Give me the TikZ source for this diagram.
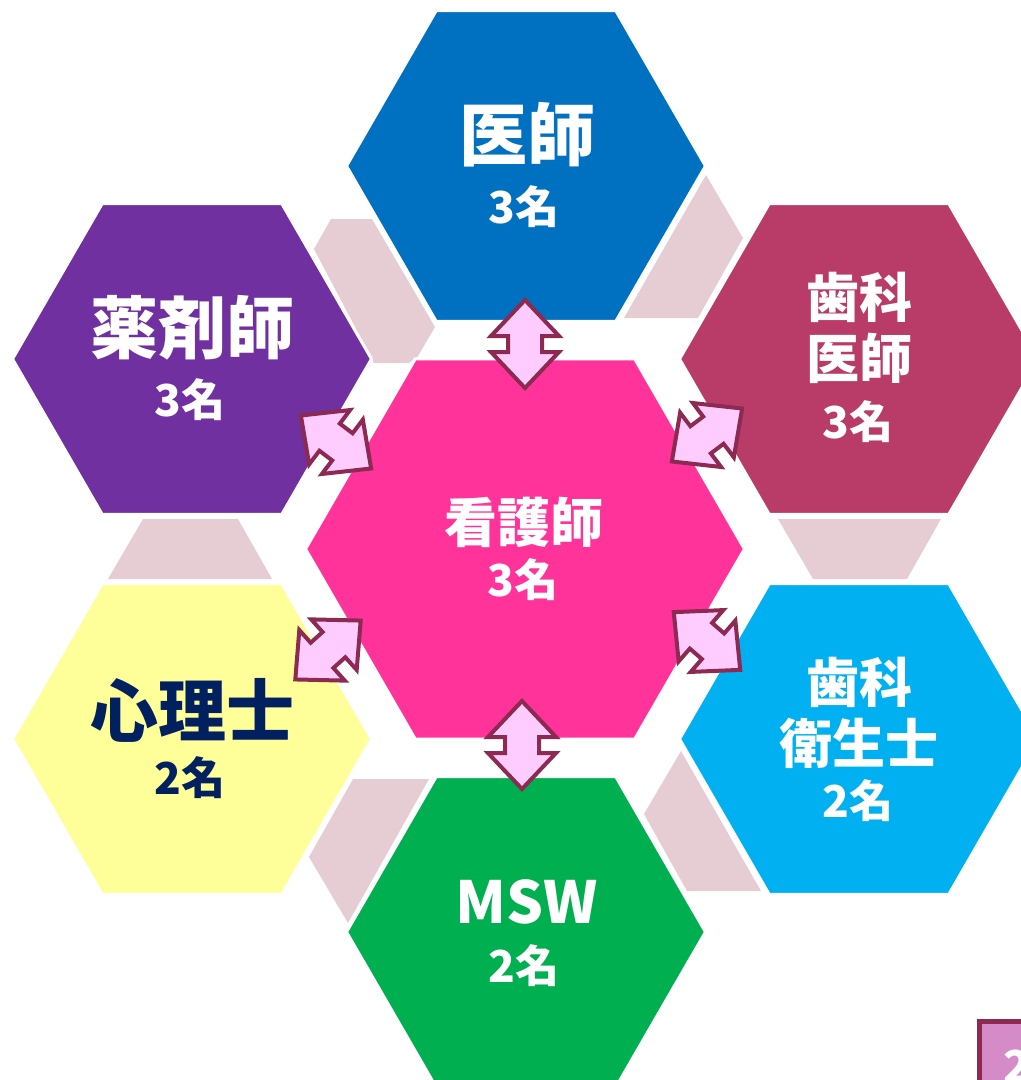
\documentclass[tikz,border=0pt]{standalone}
\usepackage{fontspec}
\newfontfamily\jp{Noto Sans CJK JP}
\usetikzlibrary{shapes.geometric}
\definecolor{cblue}{HTML}{0070C0}
\definecolor{cpurple}{HTML}{7030A0}
\definecolor{crasp}{HTML}{B93C68}
\definecolor{cpink}{HTML}{FF3399}
\definecolor{cyellow}{HTML}{FFFF99}
\definecolor{ccyan}{HTML}{00B0F0}
\definecolor{cgreen}{HTML}{00B050}
\definecolor{cnavy}{HTML}{002060}
\definecolor{pinkfill}{HTML}{E6CDD4}
\definecolor{arrowfill}{HTML}{FFCCFF}
\definecolor{arrowline}{HTML}{8C2A52}
\definecolor{orchidbox}{HTML}{D48BC8}
\tikzset{
  hexbox/.style={regular polygon, regular polygon sides=6, draw=white, line width=3pt, inner sep=0pt, minimum size=359pt},
  bighex/.style={hexbox, minimum size=439pt},
  filler/.style={fill=pinkfill},
  arrowsty/.style={fill=arrowfill, draw=arrowline, line width=4pt, line join=miter},
  big/.style={font=\jp\bfseries\fontsize{68pt}{72pt}\selectfont, text=white, inner sep=0pt},
  mid/.style={font=\jp\bfseries\fontsize{53pt}{56pt}\selectfont, text=white, inner sep=0pt},
  cnt/.style={font=\jp\bfseries\fontsize{44pt}{48pt}\selectfont, text=white, inner sep=0pt},
  dblarrow/.pic={\draw[arrowsty] (44,0) -- (8,34) -- (8,17) -- (-8,17) -- (-8,34) -- (-44,0) -- (-8,-34) -- (-8,-17) -- (8,-17) -- (8,-34) -- cycle;}
}
\begin{document}
\begin{tikzpicture}[x=1pt,y=-1pt]
\useasboundingbox (0,0) rectangle (1021,1080);
\clip (0,0) rectangle (1021,1080);
\fill[white] (0,0) rectangle (1021,1080);
% filler shapes between outer hexagons
\fill[filler] (331,219) -- (372,219) -- (435,327) -- (418,356) -- (409,363) -- (374,363) -- (314,249) -- cycle;
\fill[filler] (706,175) -- (743,238) -- (698,318) -- (624,318) -- cycle;
\fill[filler] (143,519) -- (238,519) -- (272,579) -- (108,579) -- cycle;
\fill[filler] (778,519) -- (941,519) -- (907,579) -- (813,579) -- cycle;
\fill[filler] (681,751) -- (761,891) -- (687,891) -- (644,814) -- cycle;
\fill[filler] (353,779) -- (429,779) -- (348,923) -- (309,857) -- cycle;
% hexagons
\node[hexbox, fill=cblue] (top) at (526,166) {};
\node[hexbox, fill=cpurple] (tl) at (192,359) {};
\node[hexbox, fill=crasp] (tr) at (859,359) {};
\node[hexbox, fill=cyellow] (bl) at (192,739) {};
\node[hexbox, fill=ccyan] (br) at (859,739) {};
\node[hexbox, fill=cgreen] (bot) at (526,932) {};
\node[bighex, fill=cpink] (ctr) at (525,549) {};
% arrows between the centre and the outer hexagons
\coordinate (a-top) at (525,344);
\coordinate (a-bot) at (522,745);
\coordinate (a-tl) at (336,442);
\coordinate (a-tr) at (707,435);
\coordinate (a-bl) at (328,650);
\coordinate (a-br) at (707,641);
\pic[rotate=90] at (a-top) {dblarrow};
\pic[rotate=90] at (a-bot) {dblarrow};
\pic[rotate=-37] at (a-tl) {dblarrow};
\pic[rotate=37] at (a-tr) {dblarrow};
\pic[rotate=42] at (a-bl) {dblarrow};
\pic[rotate=-41] at (a-br) {dblarrow};
% labels
\node[big] (l-top1) at (527,135) {医師};
\node[cnt] (l-top2) at (524,207) {3名};
\node[big] (l-tl1) at (192,328) {薬剤師};
\node[cnt] (l-tl2) at (190,400) {3名};
\node[mid] (l-tr1) at (859,297) {歯科};
\node[mid] (l-tr2) at (859,358) {医師};
\node[cnt] (l-tr3) at (858,422) {3名};
\node[mid] (l-c1) at (524,522) {看護師};
\node[cnt] (l-c2) at (523,580) {3名};
\node[big, text=cnavy] (l-bl1) at (192,710) {心理士};
\node[cnt, text=cnavy] (l-bl2) at (190,778) {2名};
\node[mid] (l-br1) at (859,682) {歯科};
\node[mid] (l-br2) at (859,743) {衛生士};
\node[cnt] (l-br3) at (858,801) {2名};
\node[big, font=\jp\bfseries\fontsize{58pt}{60pt}\selectfont] (l-b1) at (527,902) {MSW};
\node[cnt] (l-b2) at (524,966) {2名};
% page number box
\draw[fill=orchidbox, draw=arrowline, line width=5pt] (979,1021) rectangle (1050,1110);
\node[cnt, anchor=west] (pg) at (1003,1066) {2};
\end{tikzpicture}
\end{document}
